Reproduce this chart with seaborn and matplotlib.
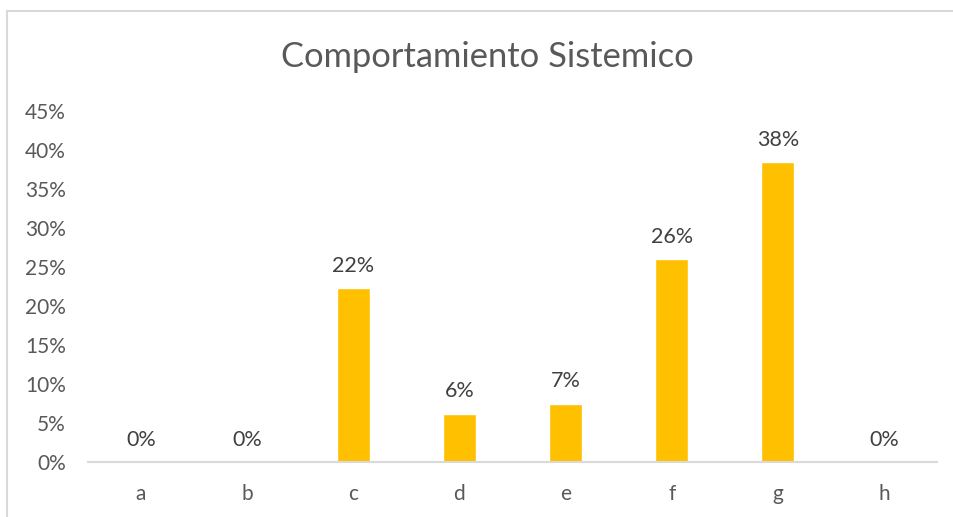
import matplotlib
matplotlib.use("Agg")
import matplotlib.pyplot as plt
import seaborn as sns
import pandas as pd
from matplotlib.patches import Rectangle
from matplotlib.ticker import PercentFormatter

categories = ["a", "b", "c", "d", "e", "f", "g", "h"]
values = [0.0, 0.0, 0.223, 0.062, 0.075, 0.260, 0.384, 0.0]
labels = ["0%", "0%", "22%", "6%", "7%", "26%", "38%", "0%"]
yticks = [0, 0.05, 0.10, 0.15, 0.20, 0.25, 0.30, 0.35, 0.40, 0.45]
title = "Comportamiento Sistemico"

sns.set_theme(style="white")
plt.rcParams["font.family"] = ["Lato", "DejaVu Sans"]

df = pd.DataFrame({"cat": categories, "val": values})

fig = plt.figure(figsize=(9.54, 5.17), dpi=100)
ax = fig.add_axes([88/954, 1-462/517, (937-88)/954, (462-111)/517])

sns.barplot(data=df, x="cat", y="val", color="#FFC000", width=0.313,
            saturation=1, ax=ax)

ax.set_ylim(0, 0.45)
ax.set_xlim(-0.5, len(categories)-0.5)
ax.set_yticks(yticks)
ax.yaxis.set_major_formatter(PercentFormatter(1.0, decimals=0))
ax.set_xlabel("")
ax.set_ylabel("")
for s in ["top", "right", "left"]:
    ax.spines[s].set_visible(False)
ax.spines["bottom"].set_color("#D9D9D9")
ax.spines["bottom"].set_linewidth(1.5)
ax.tick_params(axis="both", length=0, labelsize=15, colors="#595959")
ax.tick_params(axis="y", pad=16)
ax.tick_params(axis="x", pad=16)

ax.bar_label(ax.containers[0], labels=labels, padding=9, fontsize=15.5,
             color="#404040")

fig.text(487/954, 1-57/517, title, ha="center", va="center", fontsize=24.8,
         color="#595959")

fig.patches.append(Rectangle((7/954, -0.1), 1.2, 1-11/517+0.1,
                             transform=fig.transFigure, fill=False,
                             edgecolor="#D9D9D9", linewidth=1.5))

fig.savefig("out.png", dpi=100)
